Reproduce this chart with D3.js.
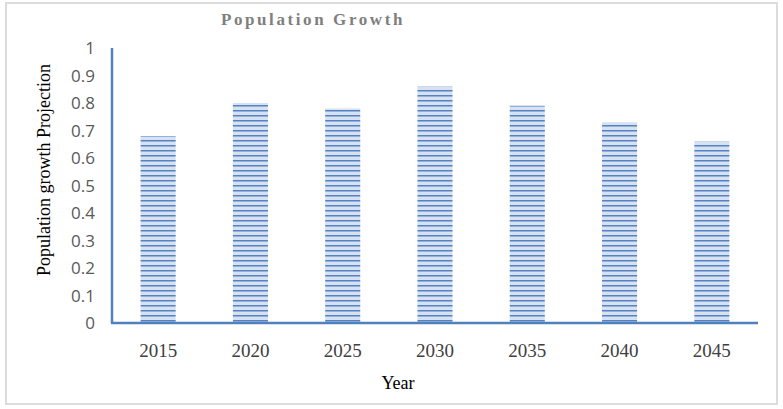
<!DOCTYPE html>
<html>
<head>
<meta charset="utf-8">
<script src="https://cdn.jsdelivr.net/npm/d3@7"></script>
<style>
  body { margin: 0; background: #fff; }
</style>
</head>
<body>
<div class="canvas"></div>
<script>
const years = ['2015', '2020', '2025', '2030', '2035', '2040', '2045'];
const growth = [0.68, 0.80, 0.78, 0.86, 0.79, 0.73, 0.66];
const yTicks = [0, 0.1, 0.2, 0.3, 0.4, 0.5, 0.6, 0.7, 0.8, 0.9, 1];

const dims = { width: 783, height: 409 };
const plot = { left: 112, right: 758, top: 48, bottom: 323 };

const svg = d3.select('.canvas')
  .append('svg')
  .attr('width', dims.width)
  .attr('height', dims.height);

// striped fill for the bars
const pat = svg.append('defs').append('pattern')
  .attr('id', 'stripes')
  .attr('patternUnits', 'userSpaceOnUse')
  .attr('width', 8)
  .attr('height', 5);
pat.append('rect').attr('width', 8).attr('height', 5).attr('fill', '#d6e1f1');
pat.append('rect').attr('y', 0).attr('width', 8).attr('height', 1.5).attr('fill', '#5582c2');

// outer frame
svg.append('rect')
  .attr('x', 6).attr('y', 3)
  .attr('width', 771).attr('height', 401)
  .attr('fill', 'none')
  .attr('stroke', '#dcdcdc')
  .attr('stroke-width', 2);

const x = d3.scaleBand()
  .domain(years)
  .range([plot.left, plot.right])
  .paddingInner(0.62)
  .paddingOuter(0.31);

const y = d3.scaleLinear()
  .domain([0, 1])
  .range([plot.bottom, plot.top]);

svg.append('g')
  .selectAll('rect')
  .data(growth)
  .enter()
  .append('rect')
    .attr('x', (d, i) => x(years[i]))
    .attr('y', d => y(d))
    .attr('width', x.bandwidth())
    .attr('height', d => y(0) - y(d))
    .attr('fill', 'url(#stripes)');

// axes lines
svg.append('line')
  .attr('x1', plot.left).attr('x2', plot.left)
  .attr('y1', plot.top).attr('y2', plot.bottom)
  .attr('stroke', '#4f81bd').attr('stroke-width', 2.5);
svg.append('line')
  .attr('x1', plot.left - 1).attr('x2', plot.right)
  .attr('y1', plot.bottom).attr('y2', plot.bottom)
  .attr('stroke', '#4f81bd').attr('stroke-width', 2.5);

// y tick labels
svg.append('g')
  .selectAll('text')
  .data(yTicks)
  .enter()
  .append('text')
    .attr('x', 95)
    .attr('y', d => y(d) + 6)
    .attr('text-anchor', 'end')
    .attr('font-family', 'Open Sans, sans-serif')
    .attr('font-size', 17)
    .attr('fill', '#595959')
    .text(d => d);

// x tick labels
svg.append('g')
  .selectAll('text')
  .data(years)
  .enter()
  .append('text')
    .attr('x', d => x(d) + x.bandwidth() / 2)
    .attr('y', 357)
    .attr('text-anchor', 'middle')
    .attr('font-family', 'Liberation Serif, serif')
    .attr('font-size', 19)
    .attr('fill', '#404040')
    .text(d => d);

svg.append('text')
  .attr('x', 313).attr('y', 25)
  .attr('text-anchor', 'middle')
  .attr('font-family', 'Liberation Serif, serif')
  .attr('font-size', 17)
  .attr('font-weight', 'bold')
  .attr('letter-spacing', 2.6)
  .attr('fill', '#7f7f7f')
  .text('Population Growth');

svg.append('text')
  .attr('x', 398).attr('y', 389)
  .attr('text-anchor', 'middle')
  .attr('font-family', 'Liberation Serif, serif')
  .attr('font-size', 18)
  .attr('fill', '#000')
  .text('Year');

svg.append('text')
  .attr('transform', 'translate(50, 170) rotate(-90)')
  .attr('text-anchor', 'middle')
  .attr('font-family', 'Liberation Serif, serif')
  .attr('font-size', 18)
  .attr('fill', '#000')
  .text('Population growth Projection');
</script>
</body>
</html>
